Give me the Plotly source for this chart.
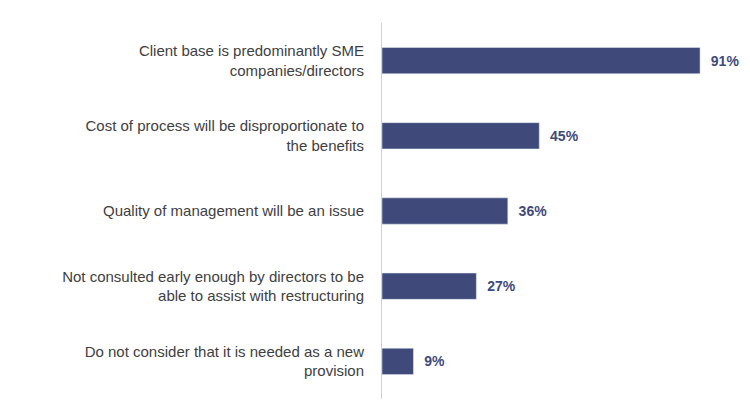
import plotly.graph_objects as go

categories = [
    "Client base is predominantly SME<br>companies/directors",
    "Cost of process will be disproportionate to<br>the benefits",
    "Quality of management will be an issue",
    "Not consulted early enough by directors to be<br>able to assist with restructuring",
    "Do not consider that it is needed as a new<br>provision",
]
values = [91, 45, 36, 27, 9]
labels = [f"  {v}%" for v in values]

color = "#404a7a"
fig = go.Figure(go.Bar(
    x=values, y=categories, orientation="h", marker_color=color,
    text=labels, textposition="outside", cliponaxis=False,
    textfont=dict(family="Liberation Sans", size=14, color=color, weight="bold"),
))
fig.update_layout(
    width=750, height=420, margin=dict(l=374, r=23, t=15, b=29),
    plot_bgcolor="white", paper_bgcolor="white", bargap=0.65, showlegend=False,
    font=dict(family="Liberation Sans", size=15, color="#404040"),
)
fig.update_xaxes(range=[0, 101], visible=False)
fig.update_yaxes(autorange="reversed", showline=True, linecolor="#d0d0d0",
                 ticks="", ticklabelstandoff=14, showgrid=False)
fig.write_html("out.html")
